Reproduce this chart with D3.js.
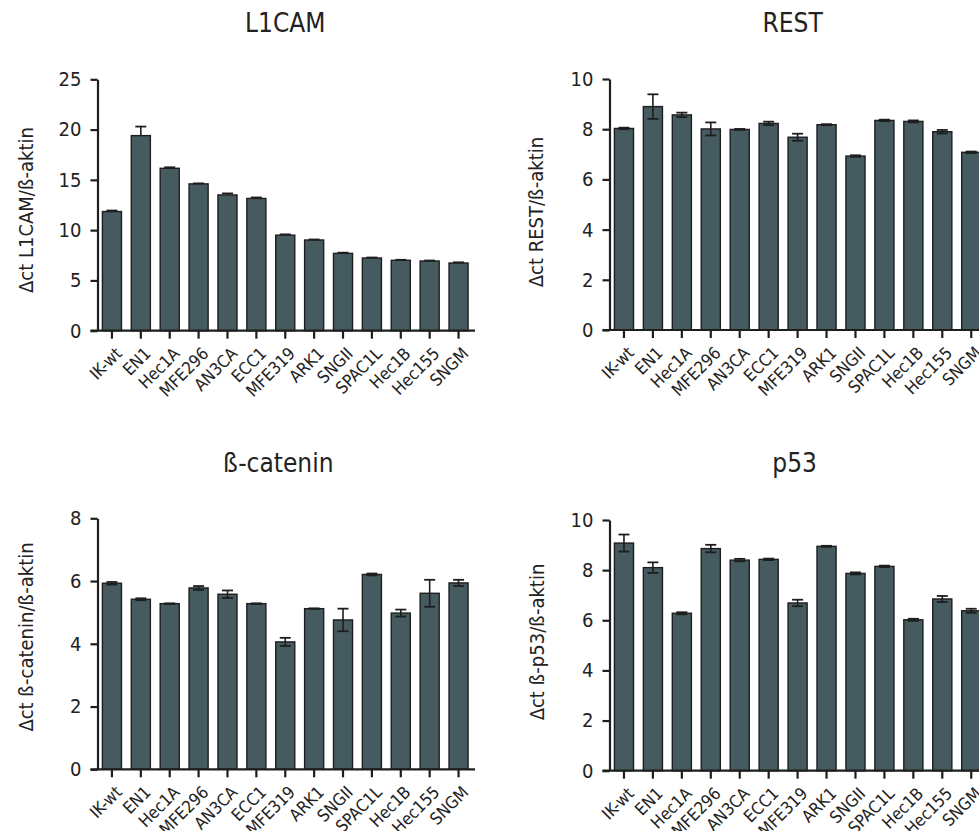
<!DOCTYPE html>
<html>
<head>
<meta charset="utf-8">
<script src="https://cdn.jsdelivr.net/npm/d3@7"></script>
<style>
  html, body { margin: 0; padding: 0; background: #fff; }
  svg { display: block; }
  text { font-family: "DejaVu Sans Condensed", "DejaVu Sans", sans-serif; fill: #222; }
</style>
</head>
<body>
<script>
// ---------- data ----------
const categories = ["IK-wt","EN1","Hec1A","MFE296","AN3CA","ECC1","MFE319","ARK1","SNGII","SPAC1L","Hec1B","Hec155","SNGM"];

const l1camValues = [11.85, 19.4, 16.15, 14.6, 13.5, 13.15, 9.5, 9.02, 7.69, 7.23, 7.0, 6.93, 6.73];
const l1camErrors = [0.1, 0.9, 0.1, 0.05, 0.15, 0.1, 0.08, 0.05, 0.07, 0.05, 0.05, 0.05, 0.07];
const l1camTicks = [0, 5, 10, 15, 20, 25];

const restValues = [8.03, 8.90, 8.57, 8.01, 7.99, 8.23, 7.68, 8.18, 6.93, 8.35, 8.31, 7.90, 7.08];
const restErrors = [0.03, 0.49, 0.09, 0.26, 0.02, 0.07, 0.14, 0.02, 0.03, 0.03, 0.04, 0.07, 0.03];
const restTicks = [0, 2, 4, 6, 8, 10];

const cateninValues = [5.93, 5.42, 5.28, 5.78, 5.58, 5.28, 4.06, 5.12, 4.76, 6.21, 4.98, 5.61, 5.94];
const cateninErrors = [0.04, 0.03, 0.01, 0.06, 0.12, 0.01, 0.13, 0.01, 0.36, 0.03, 0.11, 0.43, 0.1];
const cateninTicks = [0, 2, 4, 6, 8];

const p53Values = [9.08, 8.10, 6.28, 8.86, 8.40, 8.43, 6.69, 8.95, 7.87, 8.15, 6.02, 6.85, 6.38];
const p53Errors = [0.34, 0.21, 0.04, 0.15, 0.05, 0.03, 0.13, 0.02, 0.04, 0.03, 0.04, 0.12, 0.08];
const p53Ticks = [0, 2, 4, 6, 8, 10];

const panelTitles = ["L1CAM", "REST", "ß-catenin", "p53"];
const axisLabels = ["\u0394ct L1CAM/ß-aktin", "\u0394ct REST/ß-aktin", "\u0394ct ß-catenin/ß-aktin", "\u0394ct ß-p53/ß-aktin"];

// ---------- layout ----------
const W = 979, H = 831;
const panels = [
  { title: panelTitles[0], label: axisLabels[0], values: l1camValues, errors: l1camErrors, ticks: l1camTicks, upOnly: true,
    x0: 97.5, x1: 473, yTop: 79.3, yBot: 330.7, titleY: 32, titleDx: 0, labelX: 26, labelY: 210 },
  { title: panelTitles[1], label: axisLabels[1], values: restValues, errors: restErrors, ticks: restTicks, upOnly: false,
    x0: 609.5, x1: 985.7, yTop: 79, yBot: 330, titleY: 32, titleDx: -5, labelX: 536, labelY: 212 },
  { title: panelTitles[2], label: axisLabels[2], values: cateninValues, errors: cateninErrors, ticks: cateninTicks, upOnly: false,
    x0: 97.5, x1: 473, yTop: 518.3, yBot: 769.3, titleY: 472, titleDx: -7, labelX: 26, labelY: 637 },
  { title: panelTitles[3], label: axisLabels[3], values: p53Values, errors: p53Errors, ticks: p53Ticks, upOnly: false,
    x0: 609.5, x1: 985.7, yTop: 520, yBot: 770.7, titleY: 472, titleDx: -3, labelX: 537, labelY: 642 }
];

const BAR_FILL = "#455b60";
const INK = "#1e1e1e";
const FONT = "'DejaVu Sans Condensed', 'DejaVu Sans', sans-serif";

const svg = d3.select("body").append("svg").attr("width", W).attr("height", H);

panels.forEach(p => {
  const g = svg.append("g");
  const x = d3.scaleBand().domain(categories).range([p.x0, p.x1]).paddingInner(0.34).paddingOuter(0.17);
  const yMax = p.ticks[p.ticks.length - 1];
  const y = d3.scaleLinear().domain([0, yMax]).range([p.yBot, p.yTop]);

  // bars
  g.selectAll("rect.bar").data(categories).join("rect")
    .attr("class", "bar")
    .attr("x", d => x(d))
    .attr("width", x.bandwidth())
    .attr("y", (d, i) => y(p.values[i]))
    .attr("height", (d, i) => y(0) - y(p.values[i]))
    .attr("fill", BAR_FILL)
    .attr("stroke", INK)
    .attr("stroke-width", 1.4);

  // error bars
  const capW = 11;
  categories.forEach((c, i) => {
    const cx = x(c) + x.bandwidth() / 2;
    const hi = p.values[i] + p.errors[i];
    const lo = p.upOnly ? p.values[i] : p.values[i] - p.errors[i];
    g.append("line").attr("x1", cx).attr("x2", cx).attr("y1", y(hi)).attr("y2", y(lo))
      .attr("stroke", INK).attr("stroke-width", 1.6);
    g.append("line").attr("x1", cx - capW / 2).attr("x2", cx + capW / 2).attr("y1", y(hi)).attr("y2", y(hi))
      .attr("stroke", INK).attr("stroke-width", 1.8);
    if (!p.upOnly) {
      g.append("line").attr("x1", cx - capW / 2).attr("x2", cx + capW / 2).attr("y1", y(lo)).attr("y2", y(lo))
        .attr("stroke", INK).attr("stroke-width", 1.8);
    }
  });

  // y axis
  const yAxis = g.append("g").attr("transform", `translate(${p.x0},0)`)
    .call(d3.axisLeft(y).tickValues(p.ticks).tickFormat(d3.format("d")).tickSize(7).tickSizeOuter(0).tickPadding(9));
  yAxis.select(".domain").attr("stroke", INK).attr("stroke-width", 2.2);
  yAxis.selectAll(".tick line").attr("stroke", INK).attr("stroke-width", 2.2);
  yAxis.selectAll(".tick text").attr("font-size", 20).attr("fill", "#222").attr("font-family", FONT);

  // x axis
  const xAxis = g.append("g").attr("transform", `translate(0,${p.yBot})`)
    .call(d3.axisBottom(x).tickSize(8).tickSizeOuter(0).tickPadding(2));
  xAxis.select(".domain").remove();
  xAxis.append("line").attr("x1", p.x0 - 7).attr("x2", p.x1 + 2).attr("y1", 0).attr("y2", 0)
    .attr("stroke", INK).attr("stroke-width", 2.2);
  xAxis.selectAll(".tick line").attr("stroke", INK).attr("stroke-width", 2.2);
  xAxis.selectAll(".tick text")
    .attr("font-size", 17).attr("fill", "#222").attr("font-family", FONT)
    .attr("text-anchor", "end")
    .attr("dy", null).attr("y", 0).attr("x", 0)
    .attr("transform", "translate(11,24) rotate(-45)");

  // title
  g.append("text").attr("x", (p.x0 + p.x1) / 2 + p.titleDx).attr("y", p.titleY)
    .attr("text-anchor", "middle").attr("font-size", 26).text(p.title);

  // y label
  g.append("text")
    .attr("transform", `translate(${p.labelX},${p.labelY}) rotate(-90)`)
    .attr("text-anchor", "middle").attr("dominant-baseline", "central")
    .attr("font-size", 20).text(p.label);
});
</script>
</body>
</html>
